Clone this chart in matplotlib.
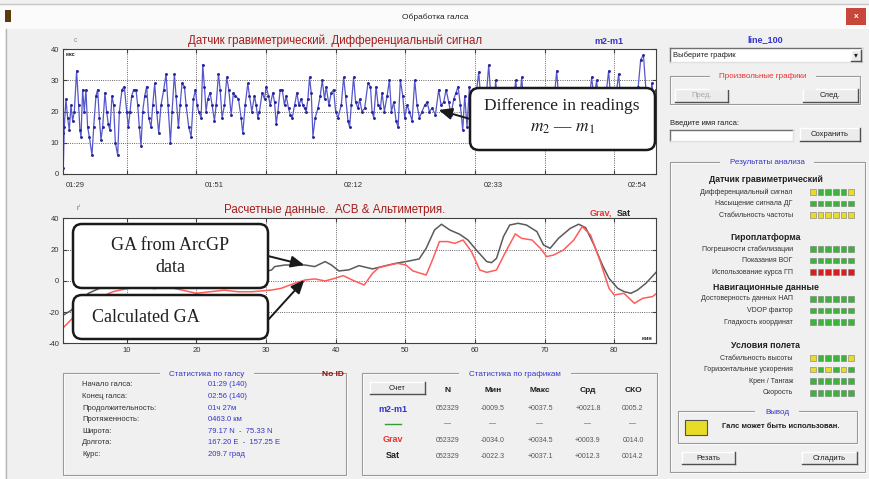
import matplotlib
matplotlib.use("Agg")
import matplotlib.pyplot as plt
from matplotlib.patches import Rectangle, FancyBboxPatch, ConnectionPatch
from matplotlib.lines import Line2D
from matplotlib.transforms import IdentityTransform

plt.rcParams['font.family'] = ['Liberation Sans', 'DejaVu Sans']
plt.rcParams['mathtext.fontset'] = 'stix'
plt.rcParams['axes.unicode_minus'] = False

# Differential gravimeter signal m2-m1, minutes from the start of the line
diff_t = [0.80, 0.90, 1.04, 1.28, 1.52, 1.76, 2.00, 2.24, 2.48, 2.81, 3.10, 3.29, 3.44, 3.68, 3.91,
          4.15, 4.39, 4.63, 5.02, 5.26, 5.59, 5.83, 6.07, 6.31, 6.55, 6.88, 7.12, 7.36, 7.60, 7.89,
          8.13, 8.37, 8.71, 8.95, 9.33, 9.66, 10.0, 10.24, 10.48, 10.72, 11.0, 11.34, 11.58, 11.82,
          12.06, 12.30, 12.59, 12.87, 13.16, 13.50, 13.74, 14.02, 14.31, 14.60, 14.93, 15.32, 15.65,
          15.94, 16.28, 16.52, 16.85, 17.09, 17.43, 17.67, 17.95, 18.29, 18.53, 18.91, 19.25, 19.58,
          19.87, 20.11, 20.35, 20.69, 20.92, 21.16, 21.40, 21.64, 21.98, 22.27, 22.60, 22.84, 23.18,
          23.42, 23.70, 24.04, 24.37, 24.66, 25.00, 25.33, 25.62, 26.05, 26.43, 26.67, 27.01, 27.39,
          27.63, 27.97, 28.35, 28.59, 28.83, 29.07, 29.45, 29.79, 30.03, 30.36, 30.60, 30.99, 31.23,
          31.47, 31.71, 32.04, 32.33, 32.66, 32.90, 33.24, 33.48, 33.77, 34.10, 34.44, 34.72, 35.06,
          35.30, 35.54, 35.78, 36.02, 36.26, 36.50, 36.74, 37.07, 37.45, 37.79, 38.08, 38.41, 38.65,
          39.04, 39.37, 39.71, 40.00, 40.33, 40.81, 41.15, 41.43, 41.77, 42.01, 42.25, 42.58, 42.87,
          43.21, 43.45, 43.78, 44.17, 44.64, 45.00, 45.23, 45.47, 45.81, 46.10, 46.43, 46.67, 47.00,
          47.39, 47.72, 48.01, 48.34, 48.68, 48.97, 49.30, 49.64, 49.92, 50.26, 50.59, 50.98, 51.36,
          51.69, 52.03, 52.41, 52.79, 53.13, 53.46, 53.85, 54.33, 54.80, 55.14, 55.52, 55.86, 56.24,
          56.57, 56.96, 57.29, 57.58, 57.91, 58.25, 58.54, 58.87, 59.21, 59.50, 59.85, 60.20, 60.55,
          60.90, 61.25, 61.60, 61.98, 62.30, 62.65, 62.98, 63.30, 63.70, 64.05, 64.40, 64.75, 65.10,
          65.50, 65.86, 66.20, 66.45, 66.72, 67.05, 67.40, 67.75, 68.10, 68.45, 68.80, 69.15, 69.50,
          69.85, 70.20, 70.55, 70.90, 71.30, 71.74, 72.10, 72.45, 72.80, 73.15, 73.50, 73.85, 74.20,
          74.55, 74.90, 75.25, 75.60, 75.95, 76.35, 76.76, 77.10, 77.48, 77.85, 78.20, 78.55, 78.90,
          79.20, 79.55, 79.90, 80.25, 80.64, 81.00, 81.35, 81.70, 82.05, 82.40, 82.75, 83.10, 83.45,
          83.80, 84.20, 84.55, 84.90, 85.20, 85.40, 85.70, 86.00]
diff_v = [13, 2, 15, 24, 18, 14, 22, 17, 20, 33, 22, 14, 12, 27, 20,
          27, 15, 12, 6, 15, 25, 27, 18, 11, 15, 26, 20, 16, 14, 25,
          22, 10, 6, 20, 27, 28, 20, 15, 20, 25, 27, 27, 22, 15,
          9, 20, 25, 28, 18, 15, 22, 29, 20, 13, 22, 27, 32,
          22, 10, 20, 32, 25, 15, 22, 29, 28, 22, 15, 12, 24,
          27, 22, 20, 18, 35, 28, 20, 24, 26, 22, 17, 22, 32,
          27, 18, 22, 31, 27, 19, 26, 25, 24, 18, 13, 22, 29,
          25, 20, 25, 22, 18, 20, 26, 24, 28, 25, 22, 26, 23,
          16, 20, 27, 27, 22, 25, 21, 19, 18, 22, 26, 22, 24,
          22, 21, 20, 24, 31, 26, 12, 18, 21, 25, 30, 24, 28,
          22, 26, 27, 20, 18, 22, 31, 25, 17, 15, 22, 31, 23,
          21, 24, 20, 21, 29, 28, 20, 18, 28, 22, 21, 26, 20,
          25, 30, 20, 23, 17, 15, 30, 25, 18, 22, 20, 17, 30,
          22, 18, 20, 22, 23, 20, 21, 19, 27, 22, 23, 27, 23,
          19, 24, 26, 28, 22, 14, 25, 15, 28, 22, 18, 26, 32.7,
          22, 17, 24, 34.9, 24, 19, 30, 21, 16, 22, 26, 20, 17,
          23, 30, 22, 24, 31, 21, 18, 24, 27, 20, 16, 22, 26,
          21, 18, 23, 27, 22, 33, 22, 17, 23, 27, 20, 18, 24,
          26, 19, 17, 23, 27, 22, 31, 24, 30, 20, 17, 24, 27,
          33, 22, 19, 25, 32, 22, 18, 23, 27, 21, 17, 24, 28,
          36.6, 38, 27, 20, 24, 29, 24, 27]

# Gravity anomaly: gravimeter (Grav) and satellite model (Sat), minutes
grav_t = [0.9, 2, 3.5, 5, 6.5, 8, 10, 12, 14, 16, 18, 20, 22, 24, 26, 28, 30.8, 32.2, 34.1, 35.6,
          37.0, 38.5, 39.9, 41.1, 42.4, 44.1, 45.3, 46.2, 47.7, 48.9, 50.1, 51.1, 53.0, 54.0, 54.9,
          56.1, 57.1, 58.3, 59.5, 60.7, 61.7, 63.1, 64.3, 65.8, 66.7, 68.2, 69.4, 70.3, 71.3, 72.7,
          74.2, 75.4, 76.6, 78.0, 79.25, 80.0, 81.4, 82.9, 84.1, 85.5, 86.1]
grav_v = [-30, -25, -18, -13, -10, -7, -5, -4, -5, -4, -6, -8, -7, -6, -7, -7, -5.9, -4.8, -1.6, 0.5,
          1.2, -0.1, 1.6, 3.3, 0.5, -2.7, 4.8, 8.4, 10.1, 11.2, 10.1, 6.3, 3.7, 14.4, 25.1,
          25.1, 24, 26.1, 18.7, 6.9, 5.4, 6.9, 17.6, 30, 27.2, 26.1, 20.8, 15.5, 16.5, 19.7,
          26.1, 34.7, 29.3, 12.3, -4.8, -9.1, -8.0, -14.4, -11.2, -10.1, -8.0]
sat_t = [0.9, 2, 3, 4.5, 6, 8, 10, 12, 14, 16, 18, 20, 22, 24, 26, 28, 29.5, 30.8, 31.25, 32.7,
         34.1, 35.6, 37.0, 38.5, 39.4, 40.46, 41.9, 43.35, 45.3, 47.2, 48.65, 50.1, 52.0, 53.0,
         54.2, 55.2, 56.4, 57.8, 59.0, 60.2, 61.7, 62.4, 63.1, 64.1, 65.0, 66.2, 67.4, 68.9, 69.85,
         70.8, 72.0, 73.7, 74.9, 75.9, 77.1, 78.3, 79.25, 80.5, 81.4, 82.4, 83.35, 84.55, 86.0]
sat_v = [-22, -19, -14, -8, -5, -2, 2, 6, 10, 13, 12, 9, 6, 4, 4, 5.5, 5.5, 6.9, 9.1, 10.1,
         10.1, 10.1, 9.1, 12.3, 10.1, 6.3, 7, 9.7, 7.6, 9.7, 11.2, 12.3, 14, 20.8,
         32.5, 36.2, 32.5, 29.8, 26.1, 19.7, 12.3, 11.6, 14.4, 28.3, 35.7, 36.8, 35.7, 31.5, 22.9,
         20.8, 27.2, 33.6, 36.2, 34, 22.9, 10.1, 1.6, -4.8, -6.9, -8.0, -5.9, -1.6, 5.4]

time_labels = ['01:29', '01:51', '02:12', '02:33', '02:54']

line_info = [('Начало галса:', '01:29 (140)'),
             ('Конец галса:', '02:56 (140)'),
             ('Продолжительность:', '01ч 27м'),
             ('Протяженность:', '0463.0 км'),
             ('Широта:', '79.17 N  -  75.33 N'),
             ('Долгота:', '167.20 E  -  157.25 E'),
             ('Курс:', '209.7 град')]

stat_cols = ['N', 'Мин', 'Макс', 'Срд', 'СКО']
stat_rows = ['m2-m1', '', 'Grav', 'Sat']
stat_vals = [['052329', '-0009.5', '+0037.5', '+0021.8', '0005.2'],
             ['—', '—', '—', '—', '—'],
             ['052329', '-0034.0', '+0034.5', '+0003.9', '0014.0'],
             ['052329', '-0022.3', '+0037.1', '+0012.3', '0014.2']]

checks = [('Датчик гравиметрический',
           ['Дифференциальный сигнал', 'Насыщение сигнала ДГ', 'Стабильность частоты'],
           ['YGGGGY', 'GGGGGG', 'YYYYYY']),
          ('Гироплатформа',
           ['Погрешности стабилизации', 'Показания ВОГ', 'Использование курса ГП'],
           ['GGGGGG', 'GGGGGG', 'RRRRRR']),
          ('Навигационные данные',
           ['Достоверность данных НАП', 'VDOP фактор', 'Гладкость координат'],
           ['GGGGGG', 'GGGGGG', 'GGGGGG']),
          ('Условия полета',
           ['Стабильность высоты', 'Горизонтальные ускорения', 'Крен / Тангаж', 'Скорость'],
           ['YGGGGY', 'YGYGYG', 'GGGGGG', 'GGGGGG'])]

W, H = 870, 479
BG = '#f0f0f0'
BLUE = '#3535c8'
fig = plt.figure(figsize=(W / 100, H / 100), dpi=100, facecolor=BG)


def fx(px):
    return px / W


def fy(py):
    return 1 - py / H


def box(x0, y0, x1, y1, **kw):
    r = Rectangle((fx(x0), fy(y1)), (x1 - x0) / W, (y1 - y0) / H,
                  transform=fig.transFigure, **kw)
    fig.add_artist(r)
    return r


def seg(xs, ys, **kw):
    fig.add_artist(Line2D([fx(x) for x in xs], [fy(y) for y in ys],
                          transform=fig.transFigure, **kw))


def label(px, py, s, **kw):
    kw.setdefault('va', 'center')
    kw.setdefault('fontsize', 5.5)
    kw.setdefault('color', '#202020')
    return fig.text(fx(px), fy(py), s, **kw)


def button(x0, y0, x1, y1, s, color='#202020'):
    box(x0, y0, x1, y1, facecolor='#ececec', edgecolor='none')
    seg([x0, x1], [y0, y0], color='white', lw=1)
    seg([x0, x0], [y0, y1], color='white', lw=1)
    seg([x0, x1], [y1, y1], color='#505050', lw=1)
    seg([x1, x1], [y0, y1], color='#505050', lw=1)
    label((x0 + x1) / 2, (y0 + y1) / 2, s, ha='center', color=color)


def sunken(x0, y0, x1, y1):
    box(x0, y0, x1, y1, facecolor='white', edgecolor='none')
    seg([x0, x1], [y0, y0], color='#707070', lw=1)
    seg([x0, x0], [y0, y1], color='#707070', lw=1)
    seg([x0, x1], [y1, y1], color='#e0e0e0', lw=1)
    seg([x1, x1], [y0, y1], color='#e0e0e0', lw=1)


def panel(x0, y0, x1, y1, title, color, tx):
    box(x0 + 1, y0 + 1, x1 + 1, y1 + 1, facecolor='none', edgecolor='white', lw=0.8)
    box(x0, y0, x1, y1, facecolor='none', edgecolor='#9a9a9a', lw=0.8)
    label(tx, y0 + 1, title, ha='center', color=color, fontsize=5.8,
          bbox=dict(facecolor=BG, edgecolor='none', boxstyle='square,pad=1.2'))


# window frame
box(0, 4, 870, 29, facecolor='#fbfbfb', edgecolor='none')
seg([0, 870], [4, 4], color='#c8c8c8', lw=1)
box(0, 29, 5, 479, facecolor='white', edgecolor='none')
seg([6, 6], [29, 479], color='#b8b8b8', lw=1)
label(435, 17, 'Обработка галса', ha='center', fontsize=6)
box(846, 8, 866, 25, facecolor='#c8463c', edgecolor='none')
label(856, 16, 'x', ha='center', color='white', fontsize=6, weight='bold')
box(5, 10, 11, 22, facecolor='#5a3a10', edgecolor='none')


def style_axes(ax):
    ax.set_facecolor('white')
    for s in ax.spines.values():
        s.set_color('#404040')
        s.set_linewidth(0.8)
    ax.tick_params(which='major', direction='in', length=3, top=True, right=True,
                   labelsize=5.5, labelcolor='#333333', color='#404040', pad=3)
    ax.grid(True, which='major', ls=':', color='#333333', lw=0.6)
    ax.set_xlim(0.9, 86.0)


# differential signal
ax1 = fig.add_axes([fx(63.3), fy(174), (656 - 63.3) / W, (174 - 49) / H])
ax1.plot(diff_t, diff_v, '-', color='#5656cc', lw=0.9)
ax1.plot(diff_t, diff_v, '.', color='#26269c', ms=2.2)
style_axes(ax1)
ax1.set_ylim(0, 40)
ax1.set_yticks([0, 10, 20, 30, 40])
ax1.set_xticks(range(10, 90, 10))
ax1.tick_params(axis='x', which='major', labelbottom=False)
ax1.set_xticks([2.6, 22.6, 42.6, 62.7, 83.3], time_labels, minor=True)
ax1.tick_params(axis='x', which='minor', length=0, labelsize=5.5, labelcolor='#333333', pad=6)
label(335, 41, 'Датчик гравиметрический. Дифференциальный сигнал', ha='center',
      color='#a81c1c', fontsize=8.3)
label(609, 42, 'm2-m1', ha='center', color=BLUE, fontsize=6.5, weight='bold')
label(66, 55, 'мкс', fontsize=4, weight='bold')
label(75, 40, 'c', ha='center', fontsize=5, color='#909090')

# gravity anomaly
ax2 = fig.add_axes([fx(63.3), fy(343.3), (656 - 63.3) / W, 125 / H])
ax2.plot(sat_t, sat_v, color='#5a5a5a', lw=1.1)
ax2.plot(grav_t, grav_v, color='#ff5c5c', lw=1.1)
style_axes(ax2)
ax2.set_ylim(-40, 40)
ax2.set_yticks([-40, -20, 0, 20, 40])
ax2.set_xticks(range(10, 90, 10))
label(335, 210, 'Расчетные данные.  АСВ & Альтиметрия.', ha='center', color='#a81c1c',
      fontsize=8.3)
label(601, 213, 'Grav,', ha='center', color='#f03030', fontsize=6.5, weight='bold')
label(624, 213, 'Sat', ha='center', color='#202020', fontsize=6.5, weight='bold')
label(647, 338, 'мин', ha='center', fontsize=4, weight='bold')
label(78, 208, 'ґ', ha='center', fontsize=5, color='#606060')

# annotation callouts
serif = ['Liberation Serif', 'DejaVu Serif']


def callout(x0, y0, x1, y1):
    fig.add_artist(FancyBboxPatch((x0, H - y1), x1 - x0, y1 - y0,
                                  boxstyle='round,pad=0,rounding_size=9',
                                  transform=IdentityTransform(), facecolor='white',
                                  edgecolor='#1a1a1a', lw=1.8, zorder=5))


def pointer(px, py, ax, x, y):
    fig.add_artist(ConnectionPatch((px, H - py), (x, y), coordsA='figure pixels',
                                   coordsB=ax.transData, color='#1a1a1a', lw=1.4,
                                   arrowstyle='-|>,head_length=0.8,head_width=0.35',
                                   zorder=6))


callout(470, 88, 655, 150)
label(562, 106, 'Difference in readings', ha='center', family=serif, fontsize=12.5, zorder=7)
label(562, 128, '$m_2$ — $m_1$', ha='center', family=serif, fontsize=12.5, zorder=7)
pointer(470, 119, ax1, 54.8, 20.5)

callout(73, 224, 268, 288)
label(170, 245, 'GA from ArcGP', ha='center', family=serif, fontsize=13, zorder=7)
label(170, 268, 'data', ha='center', family=serif, fontsize=13, zorder=7)
pointer(268, 256, ax2, 35.5, 10.1)

callout(73, 295, 268, 339)
label(146, 317, 'Calculated GA', ha='center', family=serif, fontsize=13, zorder=7)
pointer(268, 320, ax2, 35.5, 0.5)

# line statistics
panel(63, 373, 346, 475, 'Статистика по галсу', BLUE, 207)
label(333, 375, 'No ID', ha='center', color='#8a1010', fontsize=6, weight='bold')
for i, (name, val) in enumerate(line_info):
    py = 385 + i * 11.55
    label(82, py, name, color='#303030')
    label(208, py, val, color=BLUE)

# plot statistics
panel(362, 373, 657, 475, 'Статистика по графикам', BLUE, 515)
button(370, 382, 425, 394, 'Счет')
col_x = [448, 493, 540, 588, 633]
for cx, name in zip(col_x, stat_cols):
    label(cx, 390, name, ha='center', fontsize=6, weight='bold')
row_colors = [BLUE, '#30a030', '#f03030', '#202020']
for j, (name, vals) in enumerate(zip(stat_rows, stat_vals)):
    py = [409, 424, 440, 456][j]
    if name:
        label(393, py, name, ha='center', fontsize=6.5, weight='bold', color=row_colors[j])
    else:
        seg([385, 401], [py, py], color=row_colors[j], lw=1)
    for cx, v in zip(col_x, vals):
        label(cx, py, v, ha='center', fontsize=5, color='#555555')

# controls
label(765, 40, 'line_100', ha='center', color=BLUE, fontsize=6.5, weight='bold')
sunken(670, 48, 862, 62)
label(673, 55, 'Выберите график', fontsize=5.5)
button(851, 50, 861, 61, '▾')
panel(670, 76, 860, 104, 'Произвольные графики', '#e83030', 763)
button(675, 89, 728, 102, 'Пред.', color='#a8a8a8')
button(803, 89, 858, 102, 'След.')
label(670, 124, 'Введите имя галса:', fontsize=5.5)
sunken(670, 130, 793, 141)
button(800, 128, 860, 141, 'Сохранить')

# analysis results
led_colors = {'G': '#3cb43c', 'Y': '#e8dc28', 'R': '#d42020'}
panel(670, 162, 865, 472, 'Результаты анализа', BLUE, 767)
head_y = [180, 237, 287, 346]
for (title, items, states), hy in zip(checks, head_y):
    label(766, hy, title, ha='center', fontsize=6.3, weight='bold')
    for k, (item, st) in enumerate(zip(items, states)):
        iy = hy + 12 + k * 11.6
        label(793, iy, item, ha='right', fontsize=5, color='#303030')
        for m, c in enumerate(st):
            lx = 810 + m * 7.7
            box(lx, iy - 2.8, lx + 5.6, iy + 2.8, facecolor=led_colors[c],
                edgecolor='#7a7a7a', lw=0.4)

panel(678, 411, 857, 443, 'Вывод', BLUE, 777)
box(685, 420, 707, 435, facecolor='#e8dc28', edgecolor='#505050', lw=0.8)
label(781, 426, 'Галс может быть использован.', ha='center', fontsize=5.5, weight='bold')
button(682, 452, 735, 464, 'Резать')
button(802, 452, 857, 464, 'Сгладить')

fig.savefig('out.png', dpi=100, facecolor=BG)
